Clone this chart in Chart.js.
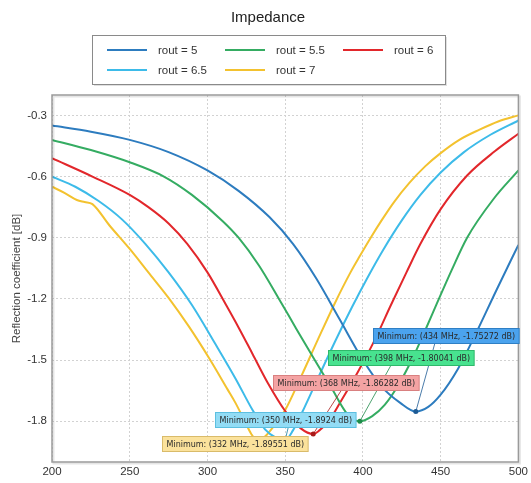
<!DOCTYPE html>
<html lang="en">
<head>
<meta charset="UTF-8">
<title>Impedance</title>
<script src="https://cdn.jsdelivr.net/npm/chart.js"></script>
<style>
  html, body { margin: 0; padding: 0; background: #fff; overflow: hidden; }
  #wrap { width: 531px; height: 483px; }
</style>
</head>
<body>
<div id="wrap"><canvas id="myChartCanvas" width="531" height="483"></canvas></div>
<script>
// series names (rout) and each curve: frequency [MHz] / reflection coefficient [dB]
const rout = ['5', '5.5', '6', '6.5', '7'];

const f5  = [200, 225, 250, 275, 300, 320, 340, 355, 370, 385, 400, 412, 424, 434, 442, 450, 461, 472, 486, 500];
const db5 = [-0.35, -0.38, -0.42, -0.48, -0.57, -0.67, -0.80, -0.93, -1.10, -1.30, -1.50, -1.63, -1.71, -1.75272, -1.73, -1.67, -1.545, -1.38, -1.155, -0.935];

const f55  = [200, 225, 250, 272, 290, 310, 320, 333, 346, 357, 369, 380, 390, 398, 406, 414, 423, 432, 440, 448, 457, 467, 484, 500];
const db55 = [-0.42, -0.47, -0.53, -0.60, -0.69, -0.82, -0.90, -1.035, -1.20, -1.345, -1.50, -1.64, -1.765, -1.80041, -1.775, -1.72, -1.62, -1.49, -1.355, -1.215, -1.06, -0.90, -0.71, -0.57];

const f6  = [200, 226, 250, 262, 275, 287, 300, 312, 320, 329, 339, 350, 360, 368, 372, 378, 386, 397, 408, 418, 428, 437, 450, 467, 485, 500];
const db6 = [-0.51, -0.60, -0.69, -0.75, -0.83, -0.93, -1.07, -1.23, -1.34, -1.47, -1.615, -1.75, -1.835, -1.86282, -1.845, -1.80, -1.70, -1.555, -1.395, -1.23, -1.07, -0.93, -0.76, -0.595, -0.475, -0.39];

const f65  = [200, 215, 230, 245, 260, 275, 290, 305, 318, 329, 337, 344, 350, 355, 361, 371, 382, 393, 403, 413, 425, 437, 450, 465, 482, 500];
const db65 = [-0.60, -0.65, -0.72, -0.81, -0.93, -1.07, -1.23, -1.42, -1.59, -1.745, -1.84, -1.88, -1.8924, -1.845, -1.755, -1.59, -1.41, -1.24, -1.095, -0.96, -0.815, -0.69, -0.58, -0.48, -0.395, -0.325];

const f7  = [200, 208, 216, 221, 226, 237, 250, 262, 275, 288, 301, 313, 318, 324, 328, 332, 337, 344, 350, 360, 371, 382, 392, 398, 405, 412, 420, 430, 440, 450, 462, 475, 487, 500];
const db7 = [-0.65, -0.68, -0.715, -0.725, -0.735, -0.84, -0.955, -1.07, -1.195, -1.335, -1.49, -1.645, -1.71, -1.80, -1.86, -1.89551, -1.875, -1.81, -1.745, -1.585, -1.40, -1.22, -1.07, -0.99, -0.90, -0.815, -0.725, -0.63, -0.55, -0.485, -0.42, -0.37, -0.33, -0.30];

const freqs = [f5, f55, f6, f65, f7];
const dbs = [db5, db55, db6, db65, db7];

// minimum of each curve
const minFreq = [434, 398, 368, 350, 332];
const minDb = [-1.75272, -1.80041, -1.86282, -1.8924, -1.89551];

const xTicks = [200, 250, 300, 350, 400, 450, 500];
const yTicks = [-1.8, -1.5, -1.2, -0.9, -0.6, -0.3];

// estilos
const cores = ['#2d7cbf', '#35ac62', '#e2272b', '#3dbbe9', '#f3c22f'];
const coresEscuras = ['#1d5a94', '#1f8a4a', '#a81a1a', '#177f9f', '#b98c12'];
const caixaFundo = ['#4ba3ee', '#48e28f', '#f4a3a3', '#92dcf5', '#fbe29c'];
const caixaBorda = ['#2f7fc4', '#2fb86a', '#d98080', '#5cbfe0', '#d9bb6a'];
// box top-left offset from the minimum point, and connector x offset
const caixaPos = [[-43, -84], [-32, -71], [-40, -59], [-70, -28], [-95, -5]];
const conectorX = [19, 31, 28, 3, 10];

const fonte = '"Liberation Sans", Arial, sans-serif';

const decor = {
    id: 'decor',
    beforeDraw(chart) {
        const c = chart.ctx;
        c.save();
        // titulo
        c.fillStyle = '#222';
        c.font = '15px ' + fonte;
        c.textAlign = 'center';
        c.textBaseline = 'alphabetic';
        c.fillText('Impedance', 268, 22);

        // legenda
        c.fillStyle = 'rgba(0,0,0,0.12)';
        c.fillRect(94, 37, 353, 49);
        c.fillStyle = '#fff';
        c.fillRect(92.5, 35.5, 353, 49);
        c.strokeStyle = '#8a8a8a';
        c.lineWidth = 1;
        c.strokeRect(92.5, 35.5, 353, 49);

        c.font = '11.5px ' + fonte;
        c.textAlign = 'left';
        c.textBaseline = 'middle';
        chart.data.datasets.forEach(function (ds, i) {
            const x = 107 + (i % 3) * 118;
            const y = 50 + Math.floor(i / 3) * 20;
            c.strokeStyle = ds.borderColor;
            c.lineWidth = 2;
            c.beginPath();
            c.moveTo(x, y);
            c.lineTo(x + 40, y);
            c.stroke();
            c.fillStyle = '#333';
            c.fillText(ds.label, x + 51, y + 1);
        });
        c.restore();
    },
    afterDatasetsDraw(chart) {
        const c = chart.ctx;
        const area = chart.chartArea;
        const sx = chart.scales.x;
        const sy = chart.scales.y;
        c.save();

        // moldura do grafico
        c.strokeStyle = 'rgba(0,0,0,0.10)';
        c.lineWidth = 2;
        c.strokeRect(area.left + 1.5, area.top + 1.5, area.right - area.left, area.bottom - area.top);
        c.strokeStyle = '#9a9a9a';
        c.lineWidth = 1.5;
        c.strokeRect(area.left, area.top, area.right - area.left, area.bottom - area.top);

        // caixas de minimo
        c.font = '8px "DejaVu Sans", Verdana, sans-serif';
        c.textBaseline = 'middle';
        c.textAlign = 'left';
        for (let i = 0; i < minFreq.length; i++) {
            const px = sx.getPixelForValue(minFreq[i]);
            const py = sy.getPixelForValue(minDb[i]);
            const texto = 'Minimum: (' + minFreq[i] + ' MHz, ' + minDb[i] + ' dB)';
            const w = c.measureText(texto).width + 8;
            const h = 15;
            const bx = Math.round(px + caixaPos[i][0]) + 0.5;
            const by = Math.round(py + caixaPos[i][1]) + 0.5;

            c.strokeStyle = coresEscuras[i];
            c.lineWidth = 0.8;
            c.beginPath();
            c.moveTo(px, py);
            c.lineTo(px + conectorX[i], by + h);
            c.stroke();

            c.fillStyle = caixaFundo[i];
            c.fillRect(bx, by, w, h);
            c.strokeStyle = caixaBorda[i];
            c.lineWidth = 1;
            c.strokeRect(bx, by, w, h);
            c.fillStyle = '#2a2a2a';
            c.fillText(texto, bx + 4, by + h / 2 + 0.5);
        }
        c.restore();
    }
};

const datasets = rout.map(function (r, i) {
    return {
        label: 'rout = ' + r,
        data: freqs[i].map(function (f, k) { return { x: f, y: dbs[i][k] }; }),
        borderColor: cores[i],
        backgroundColor: coresEscuras[i],
        borderWidth: 2,
        cubicInterpolationMode: 'monotone',
        pointRadius: function (ctx) { return ctx.raw && ctx.raw.x === minFreq[i] ? 2.5 : 0; },
        pointBackgroundColor: coresEscuras[i],
        pointBorderWidth: 0,
        pointHoverRadius: 0
    };
});

const config = {
    type: 'line',
    data: { datasets: datasets },
    options: {
        responsive: false,
        devicePixelRatio: 1,
        animation: false,
        layout: { padding: { top: 95, right: 10, left: 0, bottom: 0 } },
        plugins: {
            legend: { display: false },
            title: { display: false },
            tooltip: { enabled: false }
        },
        scales: {
            x: {
                type: 'linear',
                min: 200,
                max: 500,
                afterBuildTicks: function (s) { s.ticks = xTicks.map(function (v) { return { value: v }; }); },
                afterFit: function (s) { s.height = 21; },
                grid: { color: '#d2d2d2', lineWidth: 1, drawTicks: false },
                border: { display: false, dash: [2, 2] },
                ticks: { padding: 3, color: '#333', font: { family: fonte, size: 11.5 }, maxRotation: 0 }
            },
            y: {
                type: 'linear',
                min: -2.0,
                max: -0.2,
                afterBuildTicks: function (s) { s.ticks = yTicks.map(function (v) { return { value: v }; }); },
                afterFit: function (s) { s.width = 52; },
                grid: { color: '#d2d2d2', lineWidth: 1, drawTicks: false },
                border: { display: false, dash: [2, 2] },
                ticks: {
                    padding: 5, color: '#333', font: { family: fonte, size: 11.5 },
                    callback: function (v) { return v.toFixed(1); }
                },
                title: {
                    display: true,
                    text: 'Reflection coefficient [dB]',
                    color: '#444',
                    font: { family: fonte, size: 11.5 },
                    padding: { top: 10, bottom: 0 }
                }
            }
        }
    },
    plugins: [decor]
};

let myChart = new Chart(document.getElementById('myChartCanvas'), config);
</script>
</body>
</html>
